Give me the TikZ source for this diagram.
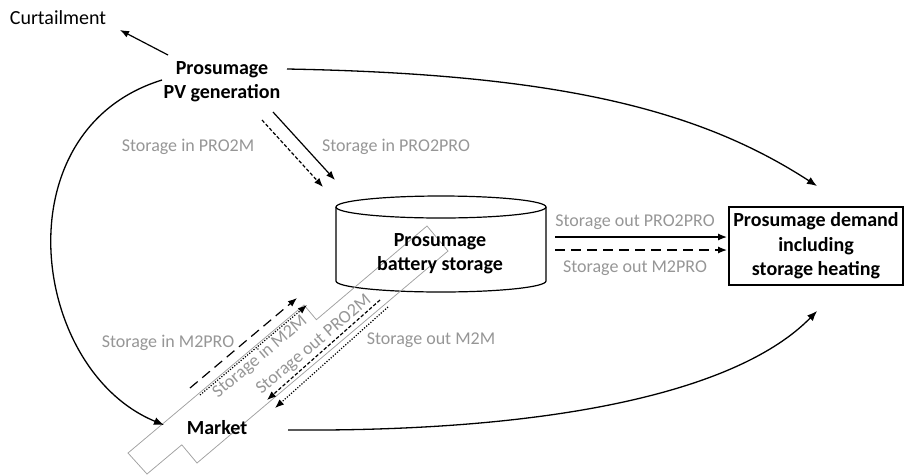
\documentclass[tikz,border=0pt]{standalone}
\usepackage{fontspec}
\setmainfont{Carlito}
\usetikzlibrary{arrows.meta}
\definecolor{lbl}{RGB}{150,150,150}
\definecolor{outl}{RGB}{160,160,160}
\tikzset{
  mainnode/.style={font=\fontsize{20}{24.4}\selectfont\bfseries, align=center, inner sep=0pt},
  plainnode/.style={font=\fontsize{20}{24.4}\selectfont, inner sep=0pt},
  flowlabel/.style={font=\fontsize{18}{22}\selectfont, text=lbl, inner sep=0pt},
  arr/.style={line width=1.2pt, -{Latex[length=9pt,width=7pt]}},
  curvearr/.style={line width=1.3pt, -{Latex[length=10pt,width=8pt]}},
  shortdash/.style={dash pattern=on 3.5pt off 2pt},
  longdash/.style={dash pattern=on 10pt off 6pt},
  dotline/.style={dash pattern=on 1.2pt off 1.6pt}
}
\begin{document}
\begin{tikzpicture}[x=1pt,y=-1pt]
\useasboundingbox (0,0) rectangle (907,475);

% cylinder
\draw[line width=1.2pt] (336,207) -- (336,281) arc[start angle=180, end angle=360, x radius=105, y radius=-11] -- (546,207);
\draw[line width=1.2pt] (441,207) ellipse [x radius=105, y radius=11];

% gray outline polygon
\draw[outl, line width=0.75pt] (128,453) -- (304,305) -- (316.4,319.7) -- (427,226) -- (448,251) -- (197,463) -- (181.8,444.8) -- (147,474) -- cycle;

% nodes
\node[plainnode] (curt) at (58,18) {Curtailment};
\node[mainnode] (pv) at (222,82) {Prosumage\\PV generation};
\node[mainnode] (market) at (217,428) {Market};
\node[mainnode, draw, line width=1.3pt, minimum width=174pt, minimum height=78pt] (dem) at (816,246) {Prosumage demand\\including\\storage heating};
\node[mainnode] (bat) at (440,254) {Prosumage\\battery storage};

% coordinates for arrow ends
\coordinate (c1) at (168,55);  \coordinate (c2) at (120,30);
\coordinate (a1) at (262,120); \coordinate (a2) at (323,187);
\coordinate (b1) at (273,112); \coordinate (b2) at (335,180);
\coordinate (o1) at (555,237); \coordinate (o2) at (727,237);
\coordinate (p1) at (555,250); \coordinate (p2) at (727,250);
\coordinate (m1) at (190,388); \coordinate (m2) at (297,298);
\coordinate (n1) at (200,395); \coordinate (n2) at (307,305);
\coordinate (q1) at (380,300); \coordinate (q2) at (267,400);
\coordinate (r1) at (388,307); \coordinate (r2) at (275,408);
\coordinate (pvl) at (162,80); \coordinate (mkl) at (164,425);
\coordinate (pvr) at (287,69); \coordinate (dmt) at (817,186);
\coordinate (mkr) at (288,430); \coordinate (dmb) at (817,311);

% arrows
\draw[arr] (c1) -- (c2);
\draw[arr, shortdash] (a1) -- (a2);
\draw[arr] (b1) -- (b2);
\draw[arr] (o1) -- (o2);
\draw[arr, longdash] (p1) -- (p2);
\draw[arr, longdash] (m1) -- (m2);
\draw[arr, dotline] (n1) -- (n2);
\draw[arr, shortdash] (q1) -- (q2);
\draw[arr, dotline] (r1) -- (r2);

% curves
\draw[curvearr] (pvl) .. controls (0,130) and (30,370) .. (mkl);
\draw[curvearr] (pvr) .. controls (560,74) and (700,110) .. (dmt);
\draw[curvearr] (mkr) .. controls (560,432) and (740,390) .. (dmb);

% labels
\node[flowlabel] (l1) at (188,147) {Storage in PRO2M};
\node[flowlabel] (l2) at (396,147) {Storage in PRO2PRO};
\node[flowlabel] (l3) at (635,222) {Storage out PRO2PRO};
\node[flowlabel] (l4) at (635,268) {Storage out M2PRO};
\node[flowlabel] (l5) at (168,343) {Storage in M2PRO};
\node[flowlabel] (l6) at (431,340) {Storage out M2M};
\node[flowlabel, rotate=40] (l7) at (260,357) {Storage in M2M};
\node[flowlabel, rotate=40] (l8) at (314,345) {Storage out PRO2M};
\end{tikzpicture}
\end{document}
